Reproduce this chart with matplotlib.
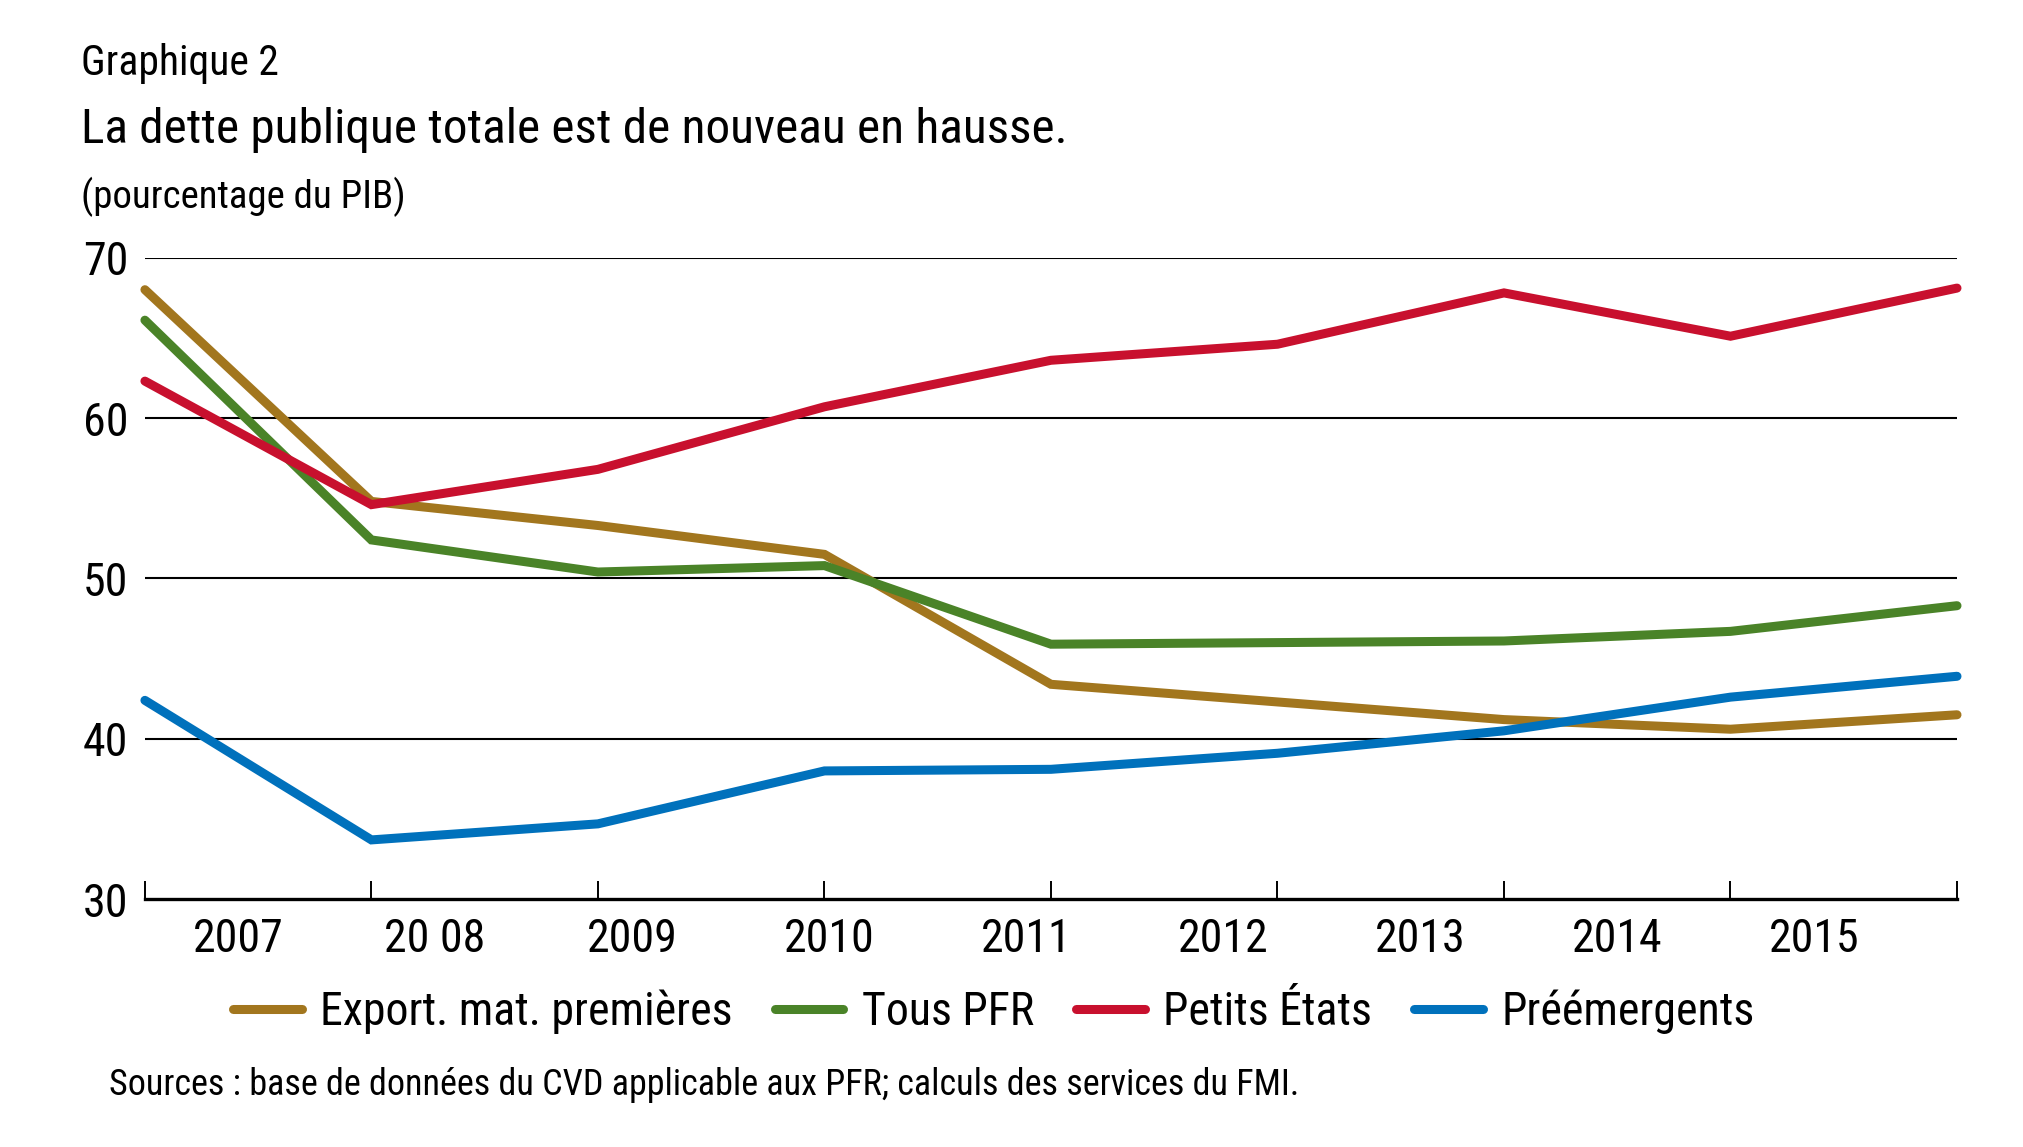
import matplotlib
matplotlib.use('Agg')
import matplotlib.pyplot as plt
from matplotlib import font_manager
import numpy as np

# police étroite si disponible
noms = {f.name for f in font_manager.fontManager.ttflist}
police = 'DejaVu Sans'
for cand in ['Liberation Sans Narrow', 'Roboto Condensed', 'Noto Sans ExtraCondensed',
             'Noto Sans Condensed', 'Open Sans Condensed', 'Arial Narrow']:
    if cand in noms:
        police = cand
        break
plt.rcParams['font.family'] = [police, 'DejaVu Sans']
plt.rcParams['font.stretch'] = 'condensed'

# données (pourcentage du PIB)
annees = ['2007', '20 08', '2009', '2010', '2011', '2012', '2013', '2014', '2015']
export_mat = [68.0, 54.8, 53.3, 51.5, 43.4, 42.3, 41.2, 40.6, 41.5]
tous_pfr = [66.1, 52.4, 50.4, 50.8, 45.9, 46.0, 46.1, 46.7, 48.3]
petits_etats = [62.3, 54.6, 56.8, 60.7, 63.6, 64.6, 67.8, 65.1, 68.1]
preemergents = [42.4, 33.7, 34.7, 38.0, 38.1, 39.1, 40.5, 42.6, 43.9]

series = [
    ('Export. mat. premières', export_mat, '#A2761E'),
    ('Tous PFR', tous_pfr, '#4A8328'),
    ('Petits États', petits_etats, '#C8102E'),
    ('Préémergents', preemergents, '#0071BC'),
]

fig = plt.figure(figsize=(20.24, 11.47), dpi=100)
ax = fig.add_axes([0.0716, 0.2160, 0.8953, 0.5594])

x = np.arange(len(annees))
for nom, vals, col in series:
    ax.plot(x, vals, color=col, lw=6.5, label=nom, solid_capstyle='round',
            solid_joinstyle='miter', clip_on=False, zorder=3)

ax.set_xlim(0, len(annees) - 1)
ax.set_ylim(30, 70)
ax.set_yticks([30, 40, 50, 60, 70])
for yv in [40, 50, 60, 70]:
    ax.axhline(yv, color='black', lw=1.5, zorder=1)

for s in ['top', 'right', 'left']:
    ax.spines[s].set_visible(False)
ax.spines['bottom'].set_linewidth(2.4)

ax.set_xticks(x)
ax.set_xticklabels([])
ax.tick_params(axis='x', which='major', direction='in', length=13, width=1.4)
# étiquettes des années entre les graduations
ax.set_xticks(np.linspace(0.41, 7.37, len(annees)), minor=True)
ax.set_xticklabels(annees, minor=True, fontsize=33)
ax.tick_params(axis='x', which='minor', length=0, pad=13)
ax.tick_params(axis='y', length=0, pad=12, labelsize=33)

fig.text(0.040, 0.9346, 'Graphique 2', fontsize=30, va='baseline')
fig.text(0.040, 0.8753, 'La dette publique totale est de nouveau en hausse.', fontsize=35.5, va='baseline')
fig.text(0.040, 0.8187, '(pourcentage du PIB)', fontsize=28, va='baseline')
fig.text(0.054, 0.0453, 'Sources : base de données du CVD applicable aux PFR; calculs des services du FMI.',
         fontsize=26, va='baseline')

fig.legend(loc='center', bbox_to_anchor=(0.491, 0.118), ncol=4, frameon=False,
           fontsize=33, handlelength=1.5, handletextpad=0.4, columnspacing=0.92)

fig.savefig('out.png', dpi=100, facecolor='white')
